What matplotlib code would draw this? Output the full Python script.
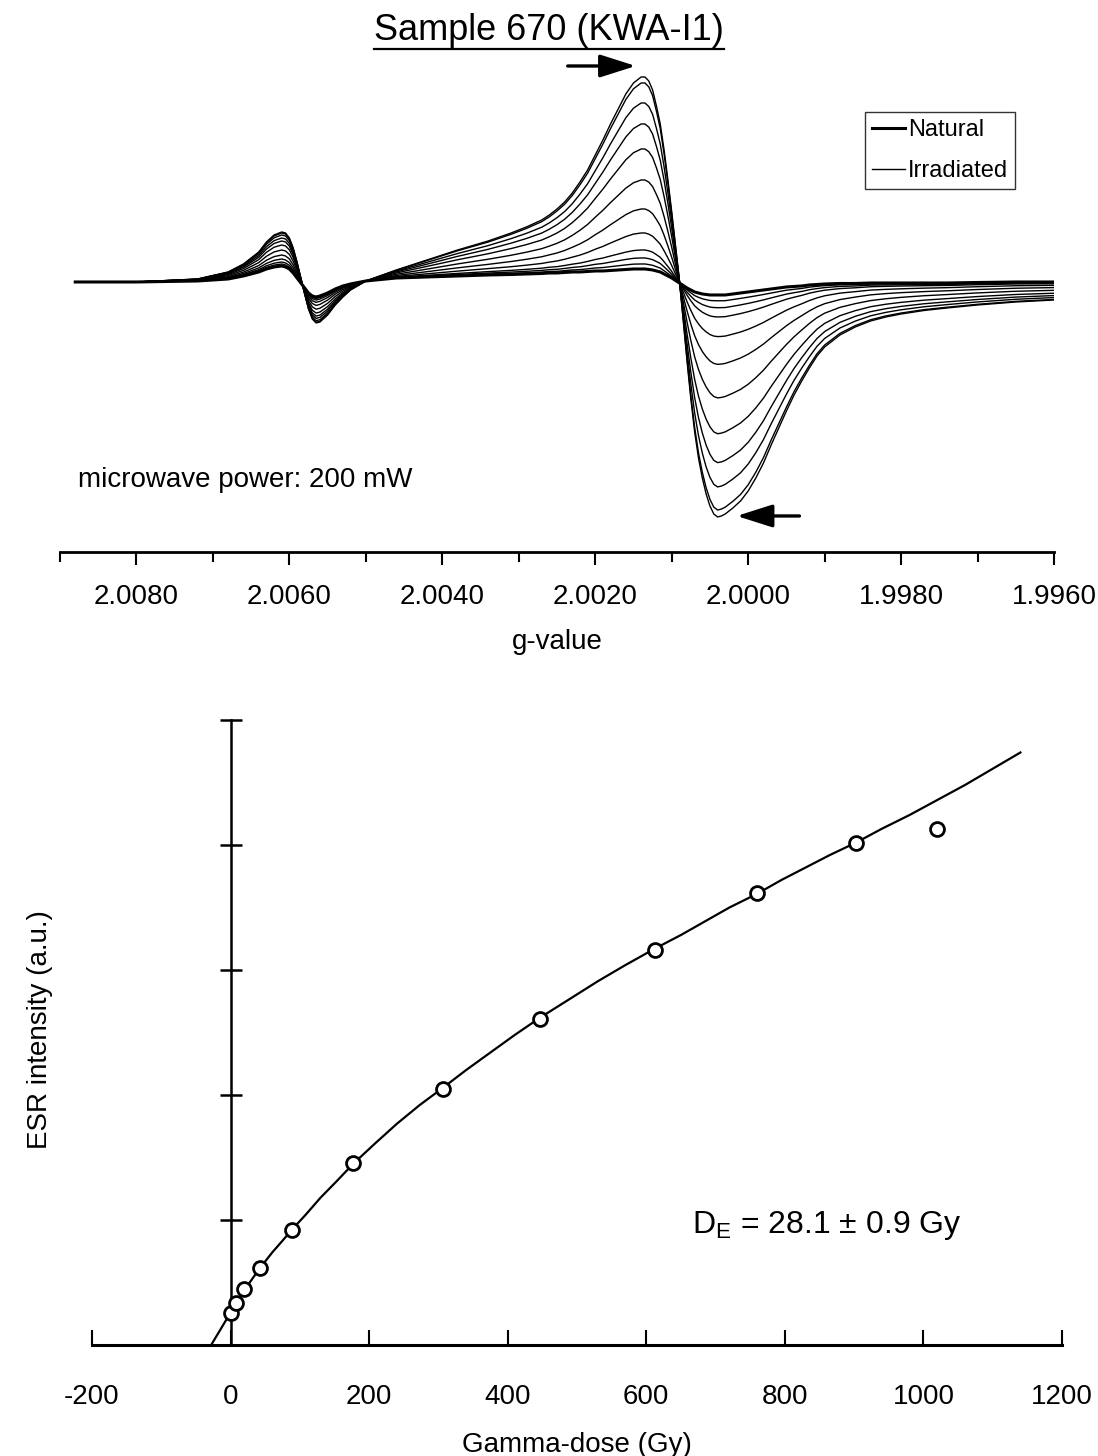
import numpy as np
import matplotlib
matplotlib.use("Agg")
import matplotlib.pyplot as plt
from matplotlib.lines import Line2D
from matplotlib.ticker import FixedLocator, FormatStrFormatter

plt.rcParams['font.family'] = ['Liberation Sans', 'DejaVu Sans']
plt.rcParams['mathtext.fontset'] = 'custom'
plt.rcParams['mathtext.rm'] = 'Liberation Sans'
plt.rcParams['axes.unicode_minus'] = False

# ---- ESR spectra (top panel) ----
g_value = [2.0088, 2.0080, 2.0072, 2.0068, 2.0066, 2.0064, 2.0063, 2.0062,
           2.0061, 2.00605, 2.0060, 2.00595, 2.0059, 2.00585, 2.0058, 2.00575,
           2.0057, 2.00565, 2.0056, 2.0055, 2.0054, 2.0053, 2.0052,
           2.0050, 2.0046, 2.0042, 2.0038, 2.0034, 2.0031, 2.0029, 2.0027,
           2.0026, 2.0025, 2.0024, 2.0023, 2.0022, 2.0021, 2.0020, 2.0019,
           2.0018, 2.0017, 2.0016, 2.0015, 2.0014, 2.00135, 2.0013, 2.00125,
           2.0012, 2.00115, 2.0011, 2.00105, 2.0010, 2.00095, 2.0009, 2.00085,
           2.0008, 2.00075, 2.0007, 2.00065, 2.0006, 2.00055, 2.0005, 2.00045,
           2.0004, 2.00035, 2.0003, 2.0002, 2.0001, 2.0000, 1.9999, 1.9998,
           1.9997, 1.9996, 1.9995, 1.9994, 1.9993, 1.9992, 1.9991, 1.9990,
           1.9988, 1.9986, 1.9984, 1.9982, 1.9980, 1.9977, 1.9974, 1.9970,
           1.9965, 1.9960]

# highest-dose spectrum
spec_max = [0, 0, 3, 10, 18, 30, 40, 47,
            50, 49, 44, 34, 20, 4, -12, -27,
            -37, -41, -40, -33, -23, -15, -8,
            1, 12, 22, 32, 41, 49, 55, 62,
            67, 73, 80, 89, 100, 112, 127, 142,
            158, 173, 188, 199, 205, 205, 201, 192,
            176, 158, 132, 102, 70, 36, 2, -38,
            -79, -117, -150, -176, -196, -212, -224, -232,
            -235, -234, -232, -226, -219, -209, -196, -181,
            -163, -146, -129, -113, -99, -86, -74, -65,
            -53, -45, -39, -35, -32, -28.5, -26, -23,
            -20, -18]

# natural spectrum
spec_nat = [0, 0, 1, 3, 6, 10, 13, 15,
            16, 15, 13, 9, 4, -1, -6, -11,
            -14, -15, -14, -11, -7, -4, -2,
            1, 4, 5, 6, 7, 7.5, 8, 8.5,
            9, 9, 9.5, 10, 10, 10.5, 11, 11,
            11.5, 12, 12.5, 13, 13, 13, 12.5, 12,
            11, 10, 8, 6, 4, 1.5, -1, -3.5,
            -6, -8, -10, -11, -12, -12.5, -13, -13,
            -13, -13, -13, -12, -11, -10, -9, -8,
            -7, -6, -5, -4.5, -4, -3, -2.5, -2,
            -1.5, -1.5, -1, -1, -1, -1, -1, -0.5,
            0, 0]

# peak heights of the irradiated spectra (main signal / g~2.006 signal)
main_peak = [18, 24, 32, 49, 73, 102, 133, 158, 179, 199, 205]
side_peak = [18, 20, 23, 27, 32, 37, 41, 44, 47, 49, 50]
main_nat, main_top = 13, 205
side_nat, side_top = 16, 50

g_major = [2.0080, 2.0060, 2.0040, 2.0020, 2.0000, 1.9980, 1.9960]
g_minor = [2.0090, 2.0070, 2.0050, 2.0030, 2.0010, 1.9990, 1.9970]

# ---- dose response (bottom panel) ----
dose = [0, 8, 20, 43, 88, 177, 307, 447, 612, 760, 903, 1019]
intensity = [0.26, 0.34, 0.45, 0.62, 0.92, 1.46, 2.05, 2.61, 3.16, 3.62, 4.02, 4.13]

fit_dose = [-28.1, -14, 0, 10, 20, 32, 43, 60, 75, 88, 108, 130, 153, 177,
            208, 240, 273, 307, 340, 375, 410, 447, 490, 530, 570, 612, 650,
            685, 720, 760, 795, 830, 865, 903, 940, 980, 1020, 1060, 1100, 1140]
fit_int = [0, 0.13, 0.26, 0.35, 0.44, 0.535, 0.62, 0.74, 0.835, 0.92, 1.04,
           1.18, 1.31, 1.45, 1.61, 1.77, 1.92, 2.06, 2.20, 2.34, 2.48, 2.62,
           2.77, 2.91, 3.04, 3.17, 3.28, 3.39, 3.50, 3.61, 3.72, 3.82, 3.92,
           4.02, 4.13, 4.24, 4.36, 4.48, 4.61, 4.74]

dose_ticks = [-200, 0, 200, 400, 600, 800, 1000, 1200]
int_ticks = [1, 2, 3, 4, 5]

fig = plt.figure(figsize=(10.98, 14.56), dpi=100)

# ---------------- spectra ----------------
ax = fig.add_axes([0.0546, 0.6209, 0.9054, 0.3379])
g = np.array(g_value)
smax = np.array(spec_max, dtype=float)
snat = np.array(spec_nat, dtype=float)
side_region = g > 2.0051

for mp, sp in zip(main_peak, side_peak):
    a = (mp - main_nat) / (main_top - main_nat)
    b = (sp - side_nat) / (side_top - side_nat)
    frac = np.where(side_region, b, a)
    ax.plot(g, snat + frac * (smax - snat), color='black', lw=1.0)
ax.plot(g, snat, color='black', lw=2.2)

ax.set_xlim(2.0090, 1.9960)
ax.set_ylim(-270, 222)
for s in ['left', 'top', 'right']:
    ax.spines[s].set_visible(False)
ax.spines['bottom'].set_linewidth(2)
ax.set_yticks([])
ax.xaxis.set_major_locator(FixedLocator(g_major))
ax.xaxis.set_minor_locator(FixedLocator(g_minor))
ax.xaxis.set_major_formatter(FormatStrFormatter('%.4f'))
ax.tick_params(axis='x', which='major', direction='out', length=9, width=1.5,
               labelsize=20, pad=14)
ax.tick_params(axis='x', which='minor', direction='out', length=7, width=1.5)
ax.set_xlabel('g-value', fontsize=20, labelpad=14)

ax.text(0.018, 0.146, 'microwave power: 200 mW', transform=ax.transAxes,
        fontsize=20, ha='left', va='center')

leg_handles = [Line2D([], [], color='black', lw=2.2),
               Line2D([], [], color='black', lw=1.0)]
leg = ax.legend(leg_handles, ['Natural', 'Irradiated'], loc='upper right',
                bbox_to_anchor=(0.9244, 0.9231), bbox_transform=fig.transFigure,
                borderaxespad=0, fontsize=17, handlelength=1.4,
                handletextpad=0.1, borderpad=0.3, labelspacing=0.8,
                fancybox=False, frameon=True)
leg.get_frame().set_edgecolor('black')
leg.get_frame().set_linewidth(1.0)

arrow = dict(arrowstyle='-|>,head_length=1.1,head_width=0.35', lw=2.4,
             color='black', mutation_scale=20, shrinkA=0, shrinkB=0)
ax.annotate('', xy=(2.00147, 216), xytext=(2.00236, 216), arrowprops=arrow)
ax.annotate('', xy=(2.00015, -234), xytext=(1.99933, -234), arrowprops=arrow)

title = fig.text(0.5, 1 - 30 / 1456, 'Sample 670 (KWA-I1)', fontsize=26,
                 ha='center', va='center')

# ---------------- dose response ----------------
bx = fig.add_axes([0.0838, 0.0762, 0.8834, 0.4293])
bx.plot(fit_dose, fit_int, color='black', lw=1.6, zorder=2)
bx.plot(dose, intensity, 'o', ms=10, mfc='white', mec='black', mew=2.0, zorder=3)

bx.set_xlim(-200, 1200)
bx.set_ylim(0, 5)
bx.spines['top'].set_visible(False)
bx.spines['right'].set_visible(False)
bx.spines['left'].set_position(('data', 0))
bx.spines['left'].set_linewidth(1.8)
bx.spines['bottom'].set_linewidth(2.2)
bx.set_xticks(dose_ticks)
bx.set_yticks(int_ticks)
bx.set_yticklabels([])
bx.tick_params(axis='x', direction='in', length=11, width=1.5, labelsize=20, pad=28)
bx.tick_params(axis='y', direction='inout', length=16, width=1.8)
bx.set_xlabel('Gamma-dose (Gy)', fontsize=20, labelpad=16)
fig.text(40 / 1098, 1 - 1030 / 1456, 'ESR intensity (a.u.)', fontsize=20,
         rotation=90, ha='center', va='center')

bx.text(0.6186, 0.192, r'D$_\mathrm{E}$ = 28.1 ± 0.9 Gy', transform=bx.transAxes,
        fontsize=23, ha='left', va='center')

# underline the title
fig.canvas.draw()
bb = title.get_window_extent().transformed(fig.transFigure.inverted())
fig.add_artist(Line2D([bb.x0, bb.x1], [bb.y0 - 0.001, bb.y0 - 0.001],
                      color='black', lw=1.6, transform=fig.transFigure))

fig.savefig('out.png', dpi=100)
